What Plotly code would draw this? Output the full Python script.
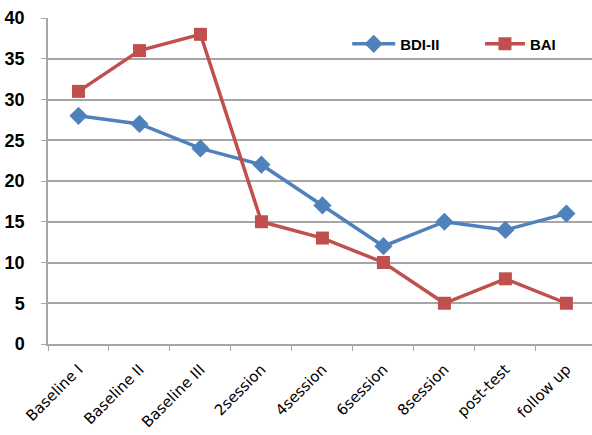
import plotly.graph_objects as go

categories = ["Baseline I", "Baseline II", "Baseline III", "2session", "4session",
              "6session", "8session", "post-test", "follow up"]
bdi_values = [28, 27, 24, 22, 17, 12, 15, 14, 16]
bai_values = [31, 36, 38, 15, 13, 10, 5, 8, 5]
y_ticks = [0, 5, 10, 15, 20, 25, 30, 35, 40]

blue = "#4f81bd"
red = "#c0504d"
grid = "#a6a6a6"

fig = go.Figure()
fig.add_trace(go.Scatter(
    x=categories, y=bdi_values, name="BDI-II", mode="lines+markers",
    line=dict(color=blue, width=3.5),
    marker=dict(symbol="diamond", size=14, color=blue),
    cliponaxis=False, legend="legend",
))
fig.add_trace(go.Scatter(
    x=categories, y=bai_values, name="BAI", mode="lines+markers",
    line=dict(color=red, width=3.5),
    marker=dict(symbol="square", size=13, color=red),
    cliponaxis=False, legend="legend2",
))

legend_font = dict(size=15, family="Liberation Sans", weight="bold")

fig.update_layout(
    width=592, height=435,
    margin=dict(l=48, r=0, t=18, b=91),
    paper_bgcolor="white", plot_bgcolor="white",
    font=dict(family="DejaVu Sans", color="black"),
    showlegend=True,
    legend=dict(
        orientation="h", x=0.55, y=0.92, xanchor="left", yanchor="middle",
        font=legend_font, bgcolor="rgba(0,0,0,0)", itemwidth=43,
    ),
    legend2=dict(
        orientation="h", x=0.794, y=0.92, xanchor="left", yanchor="middle",
        font=legend_font, bgcolor="rgba(0,0,0,0)", itemwidth=40,
    ),
    xaxis=dict(
        type="category", range=[-0.5, 8.42],
        tickangle=-45, tickfont=dict(size=15, family="DejaVu Sans"),
        showline=True, linecolor=grid, linewidth=1.5,
        ticks="outside", tickson="boundaries", ticklen=5, tickcolor=grid,
        showgrid=False, zeroline=False, ticklabelstandoff=9,
    ),
    yaxis=dict(
        range=[0, 40], tickvals=y_ticks,
        tickfont=dict(size=18, family="Liberation Sans", weight="bold"),
        showline=True, linecolor=grid, linewidth=1.5,
        ticks="outside", ticklen=5, tickcolor=grid,
        showgrid=True, gridcolor=grid, gridwidth=1.5,
        zeroline=False, ticklabelstandoff=13,
    ),
)

fig.write_html("out.html")
